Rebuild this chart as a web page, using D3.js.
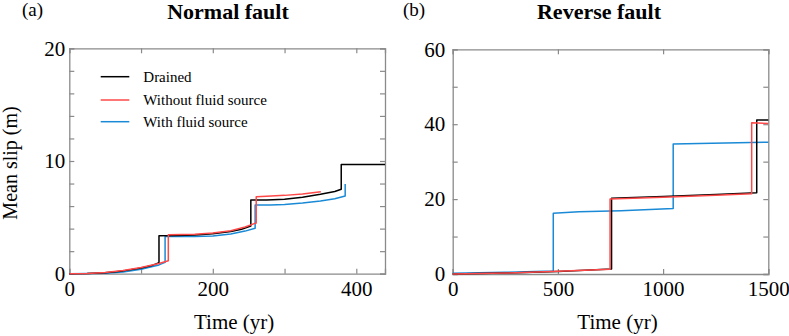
<!DOCTYPE html>
<html>
<head>
<meta charset="utf-8">
<script src="https://cdn.jsdelivr.net/npm/d3@7"></script>
<style>
  body { margin: 0; background: #fff; }
  svg text { font-family: "Liberation Serif", "Times New Roman", serif; }
</style>
</head>
<body>
<div class="vis"></div>
<script>
// series names / colours for the legend
const seriesNames = ["Drained", "Without fluid source", "With fluid source"];
const seriesColors = ["#000000", "#ff4848", "#1a8ad6"];

// (a) normal fault, [time (yr), mean slip (m)]
const normalDrained = [[0,0],[25,0.02],[50,0.08],[75,0.25],[100,0.5],[115,0.72],[125,0.98],[125,3.37],[150,3.38],[175,3.44],[200,3.55],[225,3.75],[240,3.95],[253,4.23],[253,6.54],[275,6.55],[300,6.6],[325,6.78],[350,7.05],[370,7.3],[379,7.49],[379,9.7],[440,9.7]];
const normalNoSource = [[0,0],[25,0.02],[50,0.1],[75,0.28],[100,0.55],[125,0.9],[138,1.15],[138,3.46],[175,3.5],[200,3.62],[225,3.82],[245,4.15],[260.5,4.5],[260.5,6.83],[275,6.87],[300,6.95],[325,7.08],[350.6,7.28]];
const normalSource = [[0,0],[25,0.01],[50,0.04],[75,0.15],[100,0.4],[125,0.78],[133.5,1.0],[133.5,3.3],[175,3.3],[200,3.35],[225,3.52],[245,3.78],[259,4.03],[259,6.1],[280,6.1],[300,6.15],[325,6.28],[350,6.45],[370,6.65],[384.5,6.9],[384.5,7.96]];

// (b) reverse fault
const reverseDrained = [[0,0],[250,0.25],[500,0.7],[755,1.33],[755,20.2],[1000,20.7],[1250,21.2],[1445,21.7],[1445,41.1],[1500,41.1]];
const reverseNoSource = [[0,0],[250,0.25],[500,0.75],[748,1.3],[748,20.0],[1000,20.5],[1250,21.0],[1421,21.4],[1421,40.4],[1500,40.2]];
const reverseSource = [[0,0.2],[250,0.45],[478,0.8],[478,16.2],[600,16.6],[800,16.9],[1048,17.5],[1048,34.7],[1500,35.2]];

// ticks
const normalXTicks = [0,100,200,300,400];
const normalXLabels = [0,200,400];
const normalYTicks = d3.range(0, 21, 2);
const normalYLabels = [0,10,20];
const reverseXTicks = [0,500,1000,1500];
const reverseYTicks = [0,10,20,30,40,50,60];
const reverseYLabels = [0,20,40,60];

const width = 789, height = 336;
const serif = '"Liberation Serif", "Times New Roman", serif';
const svg = d3.select('.vis').append('svg')
    .attr('width', width)
    .attr('height', height);

const frameColor = "#8a8a8a";

function panel(opt) {
    const x = d3.scaleLinear().domain(opt.xDomain).range([opt.left, opt.right]);
    const y = d3.scaleLinear().domain(opt.yDomain).range([opt.bottom, opt.top]);
    const g = svg.append('g');

    const fmt = labels => d => labels.includes(d) ? d : "";

    // bottom axis, ticks pointing in
    g.append('g')
        .attr('transform', 'translate(0,' + opt.bottom + ')')
        .call(d3.axisBottom(x).tickValues(opt.xTicks).tickSize(-5).tickPadding(7)
            .tickFormat(fmt(opt.xLabels)));
    // top axis
    g.append('g')
        .attr('transform', 'translate(0,' + opt.top + ')')
        .call(d3.axisTop(x).tickValues(opt.xTicks).tickSize(-5).tickFormat(""));
    // left axis
    g.append('g')
        .attr('transform', 'translate(' + opt.left + ',0)')
        .call(d3.axisLeft(y).tickValues(opt.yTicks).tickSize(-5).tickPadding(opt.yPad)
            .tickFormat(fmt(opt.yLabels)));
    // right axis
    g.append('g')
        .attr('transform', 'translate(' + opt.right + ',0)')
        .call(d3.axisRight(y).tickValues(opt.yTicks).tickSize(-5).tickFormat(""));

    g.selectAll('g').attr('font-family', serif).attr('font-size', 21);
    g.selectAll('.domain').attr('stroke', frameColor).attr('stroke-width', 1.3);
    g.selectAll('.tick line').attr('stroke', frameColor).attr('stroke-width', 1.2);
    g.selectAll('.tick text').attr('fill', '#000');

    const line = d3.line()
        .x(d => x(d[0]))
        .y(d => y(d[1]));

    // blue first, then black and red on top
    opt.series.forEach(s => {
        g.append('path')
            .datum(s.data)
            .attr('fill', 'none')
            .attr('stroke', s.color)
            .attr('stroke-width', 1.5)
            .attr('stroke-linejoin', 'round')
            .attr('d', line);
    });

    // x label
    g.append('text')
        .attr('x', (opt.left + opt.right) / 2 + 7)
        .attr('y', 329)
        .attr('text-anchor', 'middle')
        .style('font-size', '21px')
        .text('Time (yr)');

    // panel letter + title
    g.append('text')
        .attr('x', opt.letterX)
        .attr('y', 16)
        .style('font-size', '19px')
        .text(opt.letter);
    g.append('text')
        .attr('x', opt.titleX)
        .attr('y', 19)
        .attr('text-anchor', 'middle')
        .style('font-size', '22px')
        .style('font-weight', 'bold')
        .text(opt.title);
}

panel({
    left: 69.3, right: 385, top: 48.3, bottom: 273.7,
    xDomain: [0, 440], yDomain: [0, 20],
    xTicks: normalXTicks, xLabels: normalXLabels,
    yTicks: normalYTicks, yLabels: normalYLabels, yPad: 4,
    letter: '(a)', letterX: 22, title: 'Normal fault', titleX: 228,
    series: [
        { data: normalSource, color: seriesColors[2] },
        { data: normalDrained, color: seriesColors[0] },
        { data: normalNoSource, color: seriesColors[1] }
    ]
});

panel({
    left: 452.7, right: 768.3, top: 49.3, bottom: 274,
    xDomain: [0, 1500], yDomain: [0, 60],
    xTicks: reverseXTicks, xLabels: reverseXTicks,
    yTicks: reverseYTicks, yLabels: reverseYLabels, yPad: 7.5,
    letter: '(b)', letterX: 403, title: 'Reverse fault', titleX: 599,
    series: [
        { data: reverseSource, color: seriesColors[2] },
        { data: reverseDrained, color: seriesColors[0] },
        { data: reverseNoSource, color: seriesColors[1] }
    ]
});

// y axis label
svg.append('text')
    .attr('transform', 'translate(16.5,163) rotate(-90)')
    .attr('text-anchor', 'middle')
    .style('font-size', '20px')
    .text('Mean slip (m)');

// legend inside panel (a)
const legendY = [76.7, 100, 121.7];
const legend = svg.append('g');
seriesNames.forEach((name, i) => {
    legend.append('line')
        .attr('x1', 100.7).attr('x2', 129.3)
        .attr('y1', legendY[i]).attr('y2', legendY[i])
        .attr('stroke', seriesColors[i])
        .attr('stroke-width', 1.5);
    legend.append('text')
        .attr('x', 143.3)
        .attr('y', legendY[i] + 5)
        .style('font-size', '15px')
        .text(name);
});
</script>
</body>
</html>
